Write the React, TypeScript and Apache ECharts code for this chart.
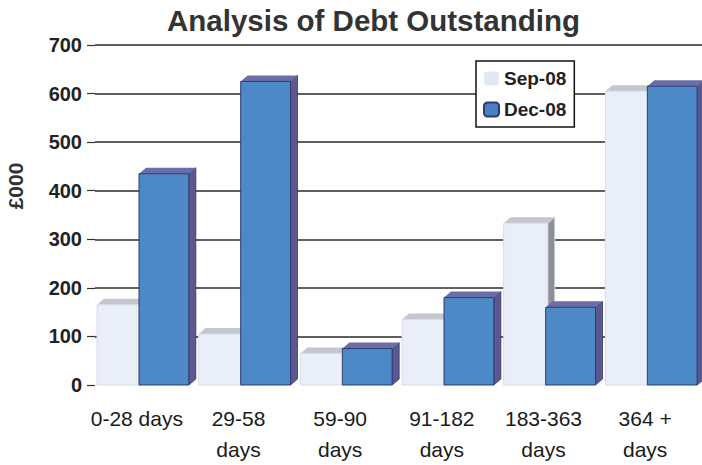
import { useEffect, useRef } from "react";
import * as echarts from "echarts";

const categories = ["0-28 days", "29-58\ndays", "59-90\ndays", "91-182\ndays", "183-363\ndays", "364 +\ndays"];
const seriesNames = ["Sep-08", "Dec-08"];
const sep08 = [165, 105, 65, 135, 333, 605];
const dec08 = [435, 625, 75, 180, 160, 615];
const yMin = 0;
const yMax = 700;
const yStep = 100;
const title = "Analysis of Debt Outstanding";
const yName = "£000";

function make3DBar(offsetFrac: number, widthFrac: number, front: string, top: string, side: string, edge: string) {
  return (_params: any, api: any) => {
    const idx = api.value(0);
    const v = api.value(1);
    const base = api.coord([idx, 0]);
    const tp = api.coord([idx, v]);
    const band = api.size([1, 0])[0];
    const x = base[0] + offsetFrac * band;
    const w = widthFrac * band;
    const y0 = tp[1];
    const y1 = base[1];
    const d = 7;
    const dy = 6;
    return {
      type: "group",
      children: [
        {
          type: "polygon",
          shape: { points: [[x + w, y0], [x + w + d, y0 - dy], [x + w + d, y1 - dy], [x + w, y1]] },
          style: { fill: side, stroke: edge, lineWidth: 0.8 },
        },
        {
          type: "polygon",
          shape: { points: [[x, y0], [x + d, y0 - dy], [x + w + d, y0 - dy], [x + w, y0]] },
          style: { fill: top },
        },
        {
          type: "rect",
          shape: { x, y: y0, width: w, height: y1 - y0 },
          style: { fill: front, stroke: edge, lineWidth: 1 },
        },
      ],
    };
  };
}

export default function App() {
  const ref = useRef<HTMLDivElement>(null);
  useEffect(() => {
    if (!ref.current) return;
    const chart = echarts.init(ref.current, null, { renderer: "svg" });
    chart.setOption({
      animation: false,
      backgroundColor: "#ffffff",
      title: {
        text: title,
        left: 167,
        top: 5,
        padding: 0,
        textStyle: { fontFamily: "Liberation Sans, Arial, sans-serif", fontWeight: "bold", fontSize: 29.5, color: "#333333" },
      },
      legend: {
        orient: "vertical",
        left: 476,
        top: 61,
        itemWidth: 15,
        itemHeight: 14,
        itemGap: 12,
        padding: [8, 8, 8, 7],
        borderColor: "#111111",
        borderWidth: 1.5,
        backgroundColor: "#ffffff",
        data: seriesNames,
        textStyle: { fontFamily: "Liberation Sans, Arial, sans-serif", fontWeight: "bold", fontSize: 19, color: "#222222" },
      },
      grid: { left: 95, top: 45, width: 610, height: 340, containLabel: false, outerBoundsMode: "none" },
      xAxis: {
        type: "category",
        data: categories,
        axisLine: { show: false },
        axisTick: { show: false },
        splitLine: { show: false },
        axisLabel: {
          interval: 0,
          margin: 18,
          fontSize: 21,
          lineHeight: 31,
          padding: [0, 18, 0, 0],
          color: "#1a1a1a",
          fontFamily: "Liberation Sans, Arial, sans-serif",
        },
      },
      yAxis: {
        type: "value",
        min: yMin,
        max: yMax,
        interval: yStep,
        name: yName,
        nameLocation: "middle",
        nameRotate: 90,
        nameGap: 69,
        nameTextStyle: {
          fontFamily: "Liberation Sans, Arial, sans-serif",
          fontWeight: "bold",
          fontSize: 21,
          color: "#333333",
          padding: [0, 0, 0, 58],
        },
        axisLine: { show: false },
        axisTick: { show: true, length: 8, lineStyle: { color: "#333333", width: 1.2 } },
        splitLine: { show: true, showMinLine: false, lineStyle: { color: "#2a2a2a", width: 1.5 } },
        axisLabel: {
          margin: 13,
          fontSize: 20,
          fontWeight: "bold",
          color: "#222222",
          fontFamily: "Liberation Sans, Arial, sans-serif",
        },
      },
      series: [
        {
          name: seriesNames[0],
          type: "custom",
          itemStyle: { color: "#e2e7f4" },
          encode: { x: 0, y: 1 },
          data: sep08.map((v, i) => [i, v]),
          renderItem: make3DBar(-0.48, 0.433, "#eaeef8", "#c3c6ce", "#8e8e96", "#d8dce6"),
          z: 2,
        },
        {
          name: seriesNames[1],
          type: "custom",
          itemStyle: { color: "#4a80c2", borderColor: "#2c3b70", borderWidth: 1 },
          encode: { x: 0, y: 1 },
          data: dec08.map((v, i) => [i, v]),
          renderItem: make3DBar(-0.067, 0.49, "#4c89c6", "#6b6ea6", "#5d5790", "#2c3b70"),
          z: 3,
        },
      ],
    });
    return () => chart.dispose();
  }, []);
  return <div ref={ref} style={{ position: "fixed", left: 0, top: 0, width: 702, height: 465 }} />;
}
